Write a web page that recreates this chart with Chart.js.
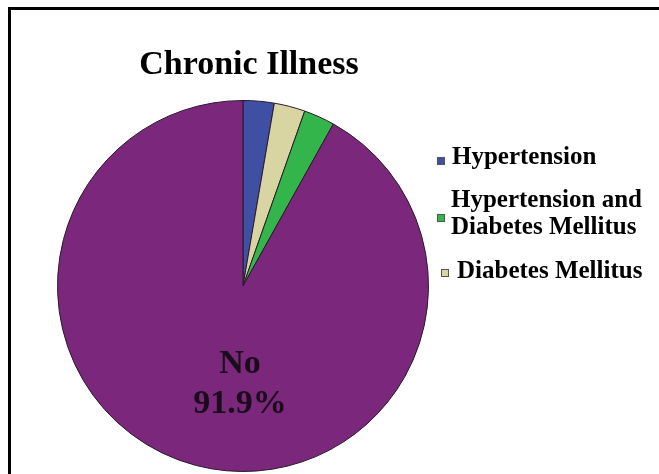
<!DOCTYPE html>
<html lang="en">
<head>
  <meta charset="UTF-8">
  <title>Chronic Illness</title>
  <script src="https://cdn.jsdelivr.net/npm/chart.js"></script>
  <style>
    html, body {
      margin: 0;
      padding: 0;
      background: #fff;
      overflow: hidden;
    }
    #wrap {
      position: relative;
      width: 659px;
      height: 474px;
    }
    #frame {
      position: absolute;
      left: 8px;
      top: 7px;
      width: 700px;
      height: 520px;
      border: 3px solid #000;
      box-sizing: border-box;
      pointer-events: none;
    }
    canvas {
      position: absolute;
      left: 0;
      top: 0;
    }
  </style>
</head>
<body>
  <div id="wrap">
    <canvas id="illnessChart" width="659" height="474"></canvas>
    <div id="frame"></div>
  </div>

  <script>
    // slices go clockwise from 12 o'clock
    const labels = ["Hypertension", "Diabetes Mellitus", "Hypertension and Diabetes Mellitus", "No"];
    const percents = [2.7, 2.7, 2.7, 91.9];
    const colors = ["#3f50a4", "#d8d5a3", "#33b54c", "#7b277c"];

    // legend order and line breaks
    const legendOrder = [0, 2, 1];
    const legendLines = {
      0: ["Hypertension"],
      2: ["Hypertension and", "Diabetes Mellitus"],
      1: ["Diabetes Mellitus"]
    };

    const serif = '"Liberation Serif", "Times New Roman", serif';

    const decorations = {
      id: 'decorations',
      afterDraw(chart) {
        const ctx = chart.ctx;
        ctx.save();

        // title
        ctx.fillStyle = "#000";
        ctx.font = "bold 34px " + serif;
        ctx.textAlign = "center";
        ctx.textBaseline = "alphabetic";
        ctx.fillText("Chronic Illness", 249, 74);

        // legend
        ctx.font = "bold 25px " + serif;
        ctx.textAlign = "left";
        ctx.textBaseline = "middle";
        const rows = [
          { box: [437, 157], text: [452, 158] },
          { box: [437, 214], text: [451, 201] },
          { box: [441, 269], text: [457, 272] }
        ];
        legendOrder.forEach((idx, i) => {
          const r = rows[i];
          ctx.fillStyle = colors[idx];
          ctx.fillRect(r.box[0], r.box[1], 8, 8);
          ctx.strokeStyle = "#555";
          ctx.lineWidth = 1;
          ctx.strokeRect(r.box[0] + 0.5, r.box[1] + 0.5, 7, 7);
          ctx.fillStyle = "#000";
          legendLines[idx].forEach((line, j) => {
            ctx.fillText(line, r.text[0], r.text[1] + j * 27);
          });
        });

        // value label inside the big slice
        const arc = chart.getDatasetMeta(0).data[3];
        ctx.fillStyle = "#1a0c1a";
        ctx.font = "bold 34px " + serif;
        ctx.textAlign = "center";
        ctx.textBaseline = "alphabetic";
        ctx.fillText(labels[3], arc.x - 3, 373);
        ctx.fillText(percents[3].toFixed(1) + "%", arc.x - 3, 413);

        ctx.restore();
      }
    };

    new Chart(document.getElementById("illnessChart"), {
      type: 'pie',
      data: {
        labels: labels,
        datasets: [{
          data: percents,
          backgroundColor: colors,
          borderColor: "#2a1a2a",
          borderWidth: 1
        }]
      },
      options: {
        responsive: false,
        animation: false,
        layout: { padding: { top: 100, bottom: 2, left: 57, right: 230 } },
        plugins: {
          legend: { display: false },
          title: { display: false },
          tooltip: { enabled: false }
        }
      },
      plugins: [decorations]
    });
  </script>
</body>
</html>
